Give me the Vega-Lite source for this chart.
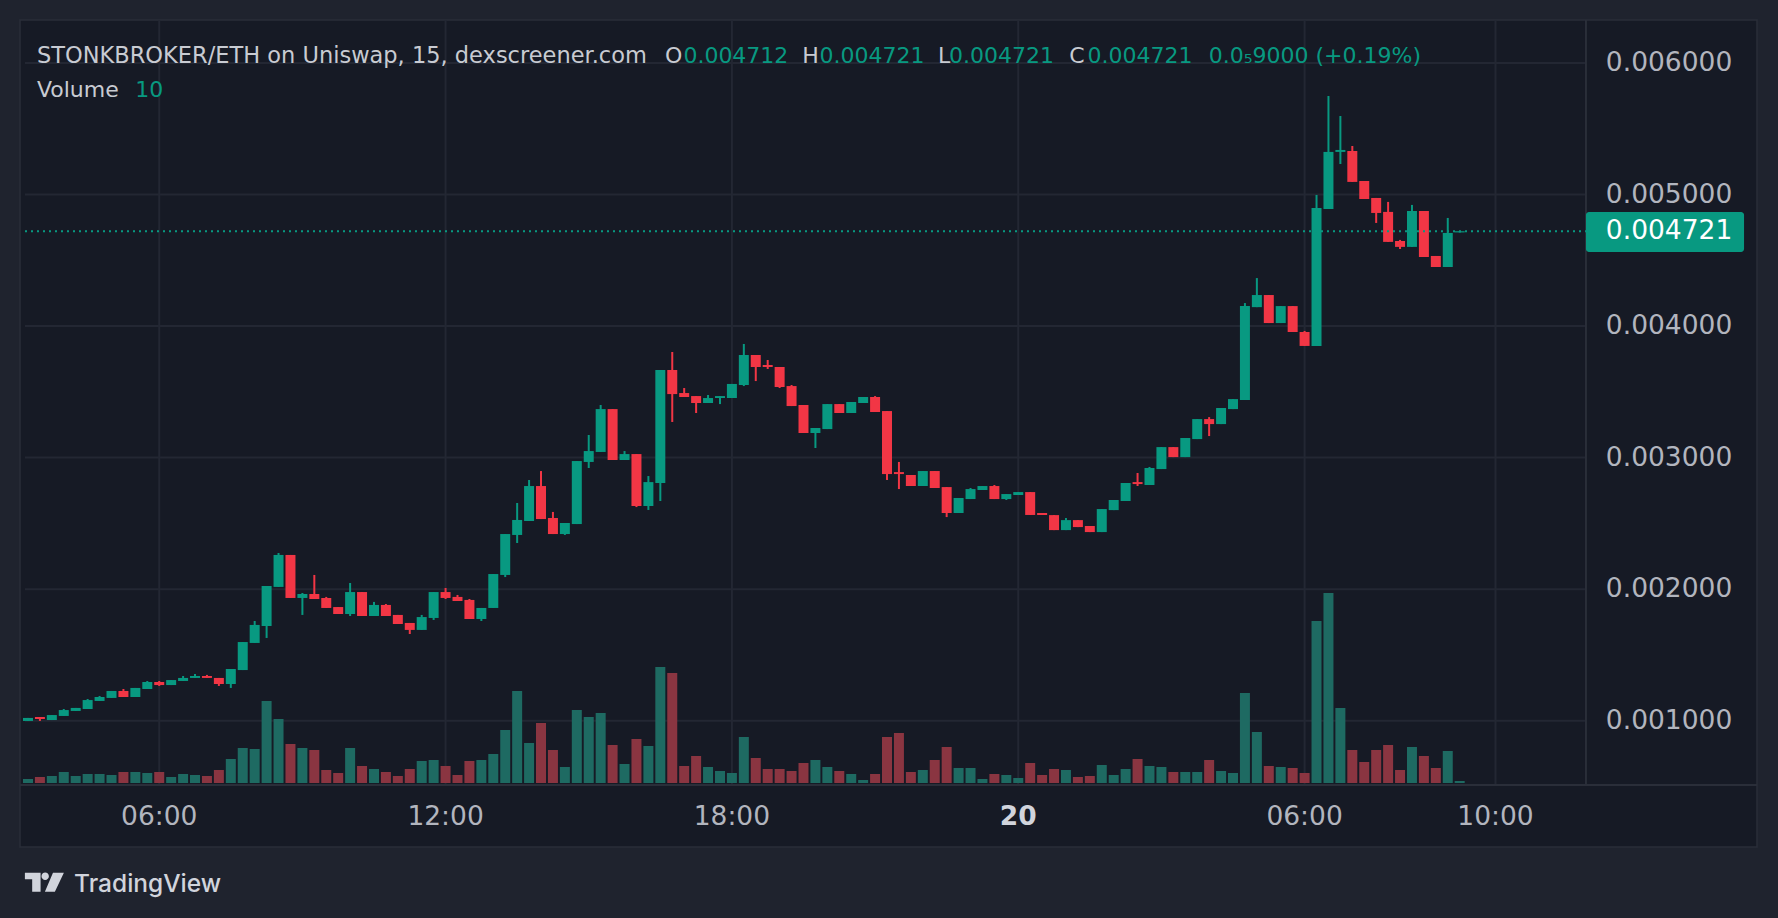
{
  "$schema": "https://vega.github.io/schema/vega-lite/v6.json",
  "autosize": "none",
  "width": 1737,
  "height": 827,
  "padding": {"left": 20, "top": 20, "right": 21, "bottom": 71},
  "background": "#1f232e",
  "view": {"fill": "#161a25", "stroke": "#2a2e39", "strokeWidth": 1.5},
  "datasets": {
    "candles": [
      {"t":"2024-05-19T03:15","o":0.000998,"h":0.001021,"l":0.000998,"c":0.001021,"v":20},
      {"t":"2024-05-19T03:30","o":0.001028,"h":0.001028,"l":0.000998,"c":0.001013,"v":30},
      {"t":"2024-05-19T03:45","o":0.001005,"h":0.001043,"l":0.001005,"c":0.001043,"v":35},
      {"t":"2024-05-19T04:00","o":0.001036,"h":0.001089,"l":0.001036,"c":0.001081,"v":55},
      {"t":"2024-05-19T04:15","o":0.001074,"h":0.001097,"l":0.001074,"c":0.001097,"v":35},
      {"t":"2024-05-19T04:30","o":0.001089,"h":0.001165,"l":0.001089,"c":0.001157,"v":45},
      {"t":"2024-05-19T04:45","o":0.001150,"h":0.001188,"l":0.001150,"c":0.001180,"v":45},
      {"t":"2024-05-19T05:00","o":0.001173,"h":0.001226,"l":0.001173,"c":0.001226,"v":40},
      {"t":"2024-05-19T05:15","o":0.001226,"h":0.001241,"l":0.001180,"c":0.001180,"v":55},
      {"t":"2024-05-19T05:30","o":0.001180,"h":0.001249,"l":0.001180,"c":0.001249,"v":55},
      {"t":"2024-05-19T05:45","o":0.001241,"h":0.001302,"l":0.001241,"c":0.001294,"v":50},
      {"t":"2024-05-19T06:00","o":0.001294,"h":0.001302,"l":0.001264,"c":0.001271,"v":55},
      {"t":"2024-05-19T06:15","o":0.001271,"h":0.001309,"l":0.001271,"c":0.001309,"v":30},
      {"t":"2024-05-19T06:30","o":0.001302,"h":0.001340,"l":0.001302,"c":0.001325,"v":45},
      {"t":"2024-05-19T06:45","o":0.001325,"h":0.001355,"l":0.001325,"c":0.001340,"v":40},
      {"t":"2024-05-19T07:00","o":0.001340,"h":0.001348,"l":0.001325,"c":0.001325,"v":35},
      {"t":"2024-05-19T07:15","o":0.001325,"h":0.001325,"l":0.001264,"c":0.001279,"v":65},
      {"t":"2024-05-19T07:30","o":0.001279,"h":0.001393,"l":0.001249,"c":0.001393,"v":120},
      {"t":"2024-05-19T07:45","o":0.001385,"h":0.001598,"l":0.001385,"c":0.001598,"v":175},
      {"t":"2024-05-19T08:00","o":0.001591,"h":0.001758,"l":0.001591,"c":0.001728,"v":170},
      {"t":"2024-05-19T08:15","o":0.001720,"h":0.002024,"l":0.001629,"c":0.002024,"v":410},
      {"t":"2024-05-19T08:30","o":0.002017,"h":0.002275,"l":0.002017,"c":0.002260,"v":320},
      {"t":"2024-05-19T08:45","o":0.002260,"h":0.002260,"l":0.001933,"c":0.001933,"v":195},
      {"t":"2024-05-19T09:00","o":0.001933,"h":0.001971,"l":0.001804,"c":0.001963,"v":175},
      {"t":"2024-05-19T09:15","o":0.001963,"h":0.002108,"l":0.001925,"c":0.001925,"v":165},
      {"t":"2024-05-19T09:30","o":0.001933,"h":0.001941,"l":0.001857,"c":0.001857,"v":65},
      {"t":"2024-05-19T09:45","o":0.001864,"h":0.001864,"l":0.001811,"c":0.001811,"v":50},
      {"t":"2024-05-19T10:00","o":0.001811,"h":0.002047,"l":0.001796,"c":0.001978,"v":175},
      {"t":"2024-05-19T10:15","o":0.001978,"h":0.001978,"l":0.001796,"c":0.001796,"v":85},
      {"t":"2024-05-19T10:30","o":0.001796,"h":0.001903,"l":0.001796,"c":0.001880,"v":70},
      {"t":"2024-05-19T10:45","o":0.001880,"h":0.001887,"l":0.001796,"c":0.001796,"v":55},
      {"t":"2024-05-19T11:00","o":0.001804,"h":0.001804,"l":0.001735,"c":0.001735,"v":35},
      {"t":"2024-05-19T11:15","o":0.001743,"h":0.001743,"l":0.001659,"c":0.001690,"v":70},
      {"t":"2024-05-19T11:30","o":0.001690,"h":0.001804,"l":0.001690,"c":0.001788,"v":110},
      {"t":"2024-05-19T11:45","o":0.001781,"h":0.001978,"l":0.001766,"c":0.001978,"v":115},
      {"t":"2024-05-19T12:00","o":0.001978,"h":0.002009,"l":0.001925,"c":0.001933,"v":85},
      {"t":"2024-05-19T12:15","o":0.001941,"h":0.001956,"l":0.001910,"c":0.001910,"v":40},
      {"t":"2024-05-19T12:30","o":0.001918,"h":0.001925,"l":0.001773,"c":0.001773,"v":110},
      {"t":"2024-05-19T12:45","o":0.001773,"h":0.001857,"l":0.001758,"c":0.001857,"v":115},
      {"t":"2024-05-19T13:00","o":0.001857,"h":0.002115,"l":0.001857,"c":0.002115,"v":145},
      {"t":"2024-05-19T13:15","o":0.002108,"h":0.002419,"l":0.002092,"c":0.002419,"v":265},
      {"t":"2024-05-19T13:30","o":0.002412,"h":0.002655,"l":0.002351,"c":0.002526,"v":460},
      {"t":"2024-05-19T13:45","o":0.002518,"h":0.002830,"l":0.002518,"c":0.002784,"v":200},
      {"t":"2024-05-19T14:00","o":0.002784,"h":0.002898,"l":0.002533,"c":0.002533,"v":300},
      {"t":"2024-05-19T14:15","o":0.002541,"h":0.002587,"l":0.002419,"c":0.002419,"v":165},
      {"t":"2024-05-19T14:30","o":0.002419,"h":0.002503,"l":0.002412,"c":0.002503,"v":80},
      {"t":"2024-05-19T14:45","o":0.002495,"h":0.002974,"l":0.002495,"c":0.002974,"v":365},
      {"t":"2024-05-19T15:00","o":0.002967,"h":0.003172,"l":0.002921,"c":0.003050,"v":330},
      {"t":"2024-05-19T15:15","o":0.003043,"h":0.003400,"l":0.003043,"c":0.003369,"v":350},
      {"t":"2024-05-19T15:30","o":0.003369,"h":0.003369,"l":0.002982,"c":0.002982,"v":190},
      {"t":"2024-05-19T15:45","o":0.002982,"h":0.003050,"l":0.002982,"c":0.003027,"v":95},
      {"t":"2024-05-19T16:00","o":0.003027,"h":0.003027,"l":0.002624,"c":0.002632,"v":220},
      {"t":"2024-05-19T16:15","o":0.002632,"h":0.002860,"l":0.002602,"c":0.002814,"v":185},
      {"t":"2024-05-19T16:30","o":0.002807,"h":0.003666,"l":0.002670,"c":0.003666,"v":580},
      {"t":"2024-05-19T16:45","o":0.003666,"h":0.003803,"l":0.003271,"c":0.003483,"v":550},
      {"t":"2024-05-19T17:00","o":0.003491,"h":0.003529,"l":0.003461,"c":0.003461,"v":85},
      {"t":"2024-05-19T17:15","o":0.003468,"h":0.003468,"l":0.003339,"c":0.003415,"v":135},
      {"t":"2024-05-19T17:30","o":0.003415,"h":0.003476,"l":0.003415,"c":0.003453,"v":80},
      {"t":"2024-05-19T17:45","o":0.003453,"h":0.003468,"l":0.003407,"c":0.003468,"v":60},
      {"t":"2024-05-19T18:00","o":0.003453,"h":0.003560,"l":0.003453,"c":0.003560,"v":50},
      {"t":"2024-05-19T18:15","o":0.003552,"h":0.003864,"l":0.003544,"c":0.003780,"v":230},
      {"t":"2024-05-19T18:30","o":0.003780,"h":0.003780,"l":0.003582,"c":0.003689,"v":125},
      {"t":"2024-05-19T18:45","o":0.003704,"h":0.003742,"l":0.003674,"c":0.003689,"v":70},
      {"t":"2024-05-19T19:00","o":0.003689,"h":0.003689,"l":0.003529,"c":0.003537,"v":70},
      {"t":"2024-05-19T19:15","o":0.003544,"h":0.003552,"l":0.003392,"c":0.003392,"v":60},
      {"t":"2024-05-19T19:30","o":0.003400,"h":0.003400,"l":0.003187,"c":0.003187,"v":100},
      {"t":"2024-05-19T19:45","o":0.003187,"h":0.003225,"l":0.003073,"c":0.003225,"v":115},
      {"t":"2024-05-19T20:00","o":0.003217,"h":0.003407,"l":0.003217,"c":0.003407,"v":80},
      {"t":"2024-05-19T20:15","o":0.003407,"h":0.003407,"l":0.003339,"c":0.003339,"v":60},
      {"t":"2024-05-19T20:30","o":0.003339,"h":0.003423,"l":0.003339,"c":0.003423,"v":45},
      {"t":"2024-05-19T20:45","o":0.003415,"h":0.003461,"l":0.003415,"c":0.003461,"v":15},
      {"t":"2024-05-19T21:00","o":0.003461,"h":0.003468,"l":0.003347,"c":0.003347,"v":45},
      {"t":"2024-05-19T21:15","o":0.003354,"h":0.003354,"l":0.002830,"c":0.002875,"v":230},
      {"t":"2024-05-19T21:30","o":0.002890,"h":0.002967,"l":0.002761,"c":0.002875,"v":250},
      {"t":"2024-05-19T21:45","o":0.002868,"h":0.002868,"l":0.002784,"c":0.002784,"v":55},
      {"t":"2024-05-19T22:00","o":0.002784,"h":0.002898,"l":0.002784,"c":0.002898,"v":65},
      {"t":"2024-05-19T22:15","o":0.002898,"h":0.002898,"l":0.002769,"c":0.002769,"v":115},
      {"t":"2024-05-19T22:30","o":0.002776,"h":0.002776,"l":0.002548,"c":0.002579,"v":180},
      {"t":"2024-05-19T22:45","o":0.002579,"h":0.002693,"l":0.002579,"c":0.002693,"v":75},
      {"t":"2024-05-19T23:00","o":0.002685,"h":0.002769,"l":0.002685,"c":0.002761,"v":75},
      {"t":"2024-05-19T23:15","o":0.002754,"h":0.002784,"l":0.002754,"c":0.002784,"v":20},
      {"t":"2024-05-19T23:30","o":0.002784,"h":0.002792,"l":0.002685,"c":0.002685,"v":45},
      {"t":"2024-05-19T23:45","o":0.002685,"h":0.002723,"l":0.002678,"c":0.002723,"v":40},
      {"t":"2024-05-20T00:00","o":0.002716,"h":0.002738,"l":0.002716,"c":0.002738,"v":25},
      {"t":"2024-05-20T00:15","o":0.002738,"h":0.002738,"l":0.002564,"c":0.002564,"v":100},
      {"t":"2024-05-20T00:30","o":0.002579,"h":0.002579,"l":0.002564,"c":0.002564,"v":40},
      {"t":"2024-05-20T00:45","o":0.002563,"h":0.002563,"l":0.002449,"c":0.002449,"v":70},
      {"t":"2024-05-20T01:00","o":0.002449,"h":0.002541,"l":0.002449,"c":0.002525,"v":65},
      {"t":"2024-05-20T01:15","o":0.002525,"h":0.002525,"l":0.002472,"c":0.002472,"v":30},
      {"t":"2024-05-20T01:30","o":0.002480,"h":0.002480,"l":0.002434,"c":0.002434,"v":35},
      {"t":"2024-05-20T01:45","o":0.002434,"h":0.002609,"l":0.002434,"c":0.002609,"v":90},
      {"t":"2024-05-20T02:00","o":0.002601,"h":0.002678,"l":0.002601,"c":0.002678,"v":40},
      {"t":"2024-05-20T02:15","o":0.002670,"h":0.002807,"l":0.002670,"c":0.002807,"v":70},
      {"t":"2024-05-20T02:30","o":0.002814,"h":0.002883,"l":0.002784,"c":0.002799,"v":120},
      {"t":"2024-05-20T02:45","o":0.002792,"h":0.002929,"l":0.002792,"c":0.002921,"v":85},
      {"t":"2024-05-20T03:00","o":0.002913,"h":0.003080,"l":0.002913,"c":0.003080,"v":80},
      {"t":"2024-05-20T03:15","o":0.003080,"h":0.003080,"l":0.003004,"c":0.003004,"v":55},
      {"t":"2024-05-20T03:30","o":0.003004,"h":0.003149,"l":0.003004,"c":0.003149,"v":55},
      {"t":"2024-05-20T03:45","o":0.003141,"h":0.003293,"l":0.003141,"c":0.003293,"v":55},
      {"t":"2024-05-20T04:00","o":0.003293,"h":0.003308,"l":0.003164,"c":0.003255,"v":115},
      {"t":"2024-05-20T04:15","o":0.003255,"h":0.003377,"l":0.003255,"c":0.003377,"v":60},
      {"t":"2024-05-20T04:30","o":0.003369,"h":0.003445,"l":0.003369,"c":0.003445,"v":50},
      {"t":"2024-05-20T04:45","o":0.003438,"h":0.004175,"l":0.003438,"c":0.004152,"v":450},
      {"t":"2024-05-20T05:00","o":0.004144,"h":0.004365,"l":0.004144,"c":0.004236,"v":255},
      {"t":"2024-05-20T05:15","o":0.004236,"h":0.004236,"l":0.004023,"c":0.004023,"v":85},
      {"t":"2024-05-20T05:30","o":0.004023,"h":0.004152,"l":0.004023,"c":0.004152,"v":80},
      {"t":"2024-05-20T05:45","o":0.004152,"h":0.004152,"l":0.003955,"c":0.003955,"v":75},
      {"t":"2024-05-20T06:00","o":0.003955,"h":0.003963,"l":0.003849,"c":0.003849,"v":50},
      {"t":"2024-05-20T06:15","o":0.003849,"h":0.004997,"l":0.003849,"c":0.004898,"v":810},
      {"t":"2024-05-20T06:30","o":0.004890,"h":0.005749,"l":0.004890,"c":0.005324,"v":950},
      {"t":"2024-05-20T06:45","o":0.005324,"h":0.005597,"l":0.005232,"c":0.005339,"v":375},
      {"t":"2024-05-20T07:00","o":0.005331,"h":0.005369,"l":0.005096,"c":0.005096,"v":165},
      {"t":"2024-05-20T07:15","o":0.005103,"h":0.005103,"l":0.004966,"c":0.004966,"v":105},
      {"t":"2024-05-20T07:30","o":0.004974,"h":0.004974,"l":0.004784,"c":0.004860,"v":165},
      {"t":"2024-05-20T07:45","o":0.004868,"h":0.004944,"l":0.004640,"c":0.004640,"v":190},
      {"t":"2024-05-20T08:00","o":0.004647,"h":0.004655,"l":0.004586,"c":0.004602,"v":65},
      {"t":"2024-05-20T08:15","o":0.004602,"h":0.004921,"l":0.004602,"c":0.004875,"v":180},
      {"t":"2024-05-20T08:30","o":0.004875,"h":0.004875,"l":0.004525,"c":0.004525,"v":135},
      {"t":"2024-05-20T08:45","o":0.004533,"h":0.004533,"l":0.004449,"c":0.004449,"v":75},
      {"t":"2024-05-20T09:00","o":0.004449,"h":0.004822,"l":0.004449,"c":0.004708,"v":160},
      {"t":"2024-05-20T09:15","o":0.004712,"h":0.004721,"l":0.004712,"c":0.004721,"v":10}
    ],
    "priceGrid": [{"p":0.001},{"p":0.002},{"p":0.003},{"p":0.004},{"p":0.005},{"p":0.006}],
    "timeGrid": [{"t":"2024-05-19T06:00"},{"t":"2024-05-19T12:00"},{"t":"2024-05-19T18:00"},{"t":"2024-05-20T00:00"},{"t":"2024-05-20T06:00"},{"t":"2024-05-20T10:00"}],
    "last": [{"price":0.004721,"label":"0.004721"}]
  },
  "layer": [
    {
      "layer": [
        {
          "data": {"name": "priceGrid"},
          "mark": {"type": "rule", "color": "#232733", "strokeWidth": 2},
          "encoding": {
            "y": {"field": "p", "type": "quantitative", "axis": null, "scale": {"domain": [0.0000398, 0.0063269], "zero": false, "nice": false}},
            "x": {"datum": {"year":2024,"month":5,"date":19,"hours":3,"minutes":11,"seconds":15}, "type": "temporal", "axis": null, "scale": {"domain": [{"year":2024,"month":5,"date":19,"hours":3,"minutes":11,"seconds":15},{"year":2024,"month":5,"date":20,"hours":15,"minutes":22,"seconds":30}], "nice": false}},
            "x2": {"datum": {"year":2024,"month":5,"date":20,"hours":11,"minutes":53,"seconds":45}}
          }
        },
        {
          "data": {"name": "timeGrid"},
          "mark": {"type": "rule", "color": "#232733", "strokeWidth": 2},
          "encoding": {
            "x": {"field": "t", "type": "temporal", "axis": null},
            "y": {"datum": 0.0063269, "type": "quantitative", "axis": null},
            "y2": {"datum": 0.0005111}
          }
        },
        {
          "data": {"values": [{}]},
          "mark": {"type": "rule", "color": "#2a2e39", "strokeWidth": 2},
          "encoding": {
            "x": {"datum": {"year":2024,"month":5,"date":20,"hours":11,"minutes":53,"seconds":45}, "type": "temporal", "axis": null},
            "y": {"datum": 0.0063269, "type": "quantitative", "axis": null},
            "y2": {"datum": 0.0005111}
          }
        },
        {
          "data": {"values": [{}]},
          "mark": {"type": "rule", "color": "#2a2e39", "strokeWidth": 2},
          "encoding": {
            "y": {"datum": 0.0005111, "type": "quantitative", "axis": null}
          }
        },
        {
          "data": {"name": "priceGrid"},
          "mark": {"type": "text", "font": "DejaVu Sans", "fontSize": 26.5, "color": "#b2b5be", "align": "left", "baseline": "middle"},
          "encoding": {
            "x": {"datum": {"year":2024,"month":5,"date":20,"hours":12,"minutes":18,"seconds":45}, "type": "temporal", "axis": null},
            "y": {"field": "p", "type": "quantitative", "axis": null},
            "text": {"field": "p", "type": "quantitative", "format": ".6f"}
          }
        },
        {
          "data": {"name": "timeGrid"},
          "transform": [{"filter": "hours(toDate(datum.t)) != 0"}],
          "mark": {"type": "text", "font": "DejaVu Sans", "fontSize": 26.5, "color": "#b2b5be", "align": "center", "baseline": "middle"},
          "encoding": {
            "x": {"field": "t", "type": "temporal", "axis": null},
            "y": {"datum": 0.000268, "type": "quantitative", "axis": null},
            "text": {"field": "t", "type": "temporal", "format": "%H:%M"}
          }
        },
        {
          "data": {"name": "timeGrid"},
          "transform": [{"filter": "hours(toDate(datum.t)) == 0"}],
          "mark": {"type": "text", "font": "DejaVu Sans", "fontSize": 26.5, "fontWeight": "bold", "color": "#d1d4dc", "align": "center", "baseline": "middle"},
          "encoding": {
            "x": {"field": "t", "type": "temporal", "axis": null},
            "y": {"datum": 0.000268, "type": "quantitative", "axis": null},
            "text": {"field": "t", "type": "temporal", "format": "%-d"}
          }
        },
        {
          "data": {"name": "candles"},
          "mark": {"type": "rule", "strokeWidth": 2},
          "encoding": {
            "x": {"field": "t", "type": "temporal", "axis": null},
            "y": {"field": "l", "type": "quantitative", "axis": null},
            "y2": {"field": "h"},
            "color": {"condition": {"test": "datum.c >= datum.o", "value": "#089981"}, "value": "#f23645"}
          }
        },
        {
          "data": {"name": "candles"},
          "mark": {"type": "bar", "width": 10},
          "encoding": {
            "x": {"field": "t", "type": "temporal", "axis": null},
            "y": {"field": "o", "type": "quantitative", "axis": null},
            "y2": {"field": "c"},
            "color": {"condition": {"test": "datum.c >= datum.o", "value": "#089981"}, "value": "#f23645"}
          }
        },
        {
          "data": {"name": "last"},
          "mark": {"type": "rule", "color": "#089981", "strokeWidth": 2, "strokeDash": [2, 4]},
          "encoding": {
            "y": {"field": "price", "type": "quantitative", "axis": null},
            "x": {"datum": {"year":2024,"month":5,"date":19,"hours":3,"minutes":11,"seconds":15}, "type": "temporal", "axis": null},
            "x2": {"datum": {"year":2024,"month":5,"date":20,"hours":11,"minutes":53,"seconds":45}}
          }
        },
        {
          "data": {"name": "last"},
          "mark": {"type": "rect", "color": "#089981", "cornerRadius": 3},
          "encoding": {
            "x": {"datum": {"year":2024,"month":5,"date":20,"hours":11,"minutes":53,"seconds":45}, "type": "temporal", "axis": null},
            "x2": {"datum": {"year":2024,"month":5,"date":20,"hours":15,"minutes":12,"seconds":30}},
            "y": {"datum": 0.0048672, "type": "quantitative", "axis": null},
            "y2": {"datum": 0.0045631}
          }
        },
        {
          "data": {"name": "last"},
          "mark": {"type": "text", "font": "DejaVu Sans", "fontSize": 26.5, "color": "#ffffff", "align": "left", "baseline": "middle"},
          "encoding": {
            "x": {"datum": {"year":2024,"month":5,"date":20,"hours":12,"minutes":18,"seconds":45}, "type": "temporal", "axis": null},
            "y": {"field": "price", "type": "quantitative", "axis": null},
            "text": {"field": "label"}
          }
        },
        {
          "data": {"values": [{"s": "STONKBROKER/ETH on Uniswap, 15, dexscreener.com"}]},
          "mark": {"type": "text", "font": "DejaVu Sans", "fontSize": 22.5, "color": "#c8cbd2", "align": "left", "baseline": "alphabetic"},
          "encoding": {"x": {"datum": {"year":2024,"month":5,"date":19,"hours":3,"minutes":26,"seconds":15}, "type": "temporal", "axis": null}, "y": {"datum": 0.006, "type": "quantitative", "axis": null}, "text": {"field": "s"}}
        },
        {
          "data": {"values": [{"s": "O"}]},
          "mark": {"type": "text", "font": "DejaVu Sans", "fontSize": 22, "color": "#c8cbd2", "align": "left", "baseline": "alphabetic"},
          "encoding": {"x": {"datum": {"year":2024,"month":5,"date":19,"hours":16,"minutes":36,"seconds":0}, "type": "temporal", "axis": null}, "y": {"datum": 0.006, "type": "quantitative", "axis": null}, "text": {"field": "s"}}
        },
        {
          "data": {"values": [{"s": "0.004712"}]},
          "mark": {"type": "text", "font": "DejaVu Sans", "fontSize": 22, "color": "#089981", "align": "left", "baseline": "alphabetic"},
          "encoding": {"x": {"datum": {"year":2024,"month":5,"date":19,"hours":16,"minutes":59,"seconds":0}, "type": "temporal", "axis": null}, "y": {"datum": 0.006, "type": "quantitative", "axis": null}, "text": {"field": "s"}}
        },
        {
          "data": {"values": [{"s": "H"}]},
          "mark": {"type": "text", "font": "DejaVu Sans", "fontSize": 22, "color": "#c8cbd2", "align": "left", "baseline": "alphabetic"},
          "encoding": {"x": {"datum": {"year":2024,"month":5,"date":19,"hours":19,"minutes":28,"seconds":30}, "type": "temporal", "axis": null}, "y": {"datum": 0.006, "type": "quantitative", "axis": null}, "text": {"field": "s"}}
        },
        {
          "data": {"values": [{"s": "0.004721"}]},
          "mark": {"type": "text", "font": "DejaVu Sans", "fontSize": 22, "color": "#089981", "align": "left", "baseline": "alphabetic"},
          "encoding": {"x": {"datum": {"year":2024,"month":5,"date":19,"hours":19,"minutes":50,"seconds":0}, "type": "temporal", "axis": null}, "y": {"datum": 0.006, "type": "quantitative", "axis": null}, "text": {"field": "s"}}
        },
        {
          "data": {"values": [{"s": "L"}]},
          "mark": {"type": "text", "font": "DejaVu Sans", "fontSize": 22, "color": "#c8cbd2", "align": "left", "baseline": "alphabetic"},
          "encoding": {"x": {"datum": {"year":2024,"month":5,"date":19,"hours":22,"minutes":19,"seconds":0}, "type": "temporal", "axis": null}, "y": {"datum": 0.006, "type": "quantitative", "axis": null}, "text": {"field": "s"}}
        },
        {
          "data": {"values": [{"s": "0.004721"}]},
          "mark": {"type": "text", "font": "DejaVu Sans", "fontSize": 22, "color": "#089981", "align": "left", "baseline": "alphabetic"},
          "encoding": {"x": {"datum": {"year":2024,"month":5,"date":19,"hours":22,"minutes":33,"seconds":0}, "type": "temporal", "axis": null}, "y": {"datum": 0.006, "type": "quantitative", "axis": null}, "text": {"field": "s"}}
        },
        {
          "data": {"values": [{"s": "C"}]},
          "mark": {"type": "text", "font": "DejaVu Sans", "fontSize": 22, "color": "#c8cbd2", "align": "left", "baseline": "alphabetic"},
          "encoding": {"x": {"datum": {"year":2024,"month":5,"date":20,"hours":1,"minutes":4,"seconds":0}, "type": "temporal", "axis": null}, "y": {"datum": 0.006, "type": "quantitative", "axis": null}, "text": {"field": "s"}}
        },
        {
          "data": {"values": [{"s": "0.004721"}]},
          "mark": {"type": "text", "font": "DejaVu Sans", "fontSize": 22, "color": "#089981", "align": "left", "baseline": "alphabetic"},
          "encoding": {"x": {"datum": {"year":2024,"month":5,"date":20,"hours":1,"minutes":27,"seconds":0}, "type": "temporal", "axis": null}, "y": {"datum": 0.006, "type": "quantitative", "axis": null}, "text": {"field": "s"}}
        },
        {
          "data": {"values": [{"s": "0.0₅9000 (+0.19%)"}]},
          "mark": {"type": "text", "font": "DejaVu Sans", "fontSize": 22, "color": "#089981", "align": "left", "baseline": "alphabetic"},
          "encoding": {"x": {"datum": {"year":2024,"month":5,"date":20,"hours":3,"minutes":59,"seconds":30}, "type": "temporal", "axis": null}, "y": {"datum": 0.006, "type": "quantitative", "axis": null}, "text": {"field": "s"}}
        },
        {
          "data": {"values": [{"s": "Volume"}]},
          "mark": {"type": "text", "font": "DejaVu Sans", "fontSize": 22, "color": "#c8cbd2", "align": "left", "baseline": "alphabetic"},
          "encoding": {"x": {"datum": {"year":2024,"month":5,"date":19,"hours":3,"minutes":26,"seconds":15}, "type": "temporal", "axis": null}, "y": {"datum": 0.0057415, "type": "quantitative", "axis": null}, "text": {"field": "s"}}
        },
        {
          "data": {"values": [{"s": "10"}]},
          "mark": {"type": "text", "font": "DejaVu Sans", "fontSize": 22, "color": "#089981", "align": "left", "baseline": "alphabetic"},
          "encoding": {"x": {"datum": {"year":2024,"month":5,"date":19,"hours":5,"minutes":30,"seconds":0}, "type": "temporal", "axis": null}, "y": {"datum": 0.0057415, "type": "quantitative", "axis": null}, "text": {"field": "s"}}
        },
        {
          "data": {"values": [{"s": "TradingView"}]},
          "mark": {"type": "text", "font": "Inter", "fontSize": 24.5, "fontWeight": 500, "color": "#d1d4dc", "align": "left", "baseline": "alphabetic"},
          "encoding": {"x": {"datum": {"year":2024,"month":5,"date":19,"hours":4,"minutes":13}, "type": "temporal", "axis": null}, "y": {"datum": -0.0003, "type": "quantitative", "axis": null}, "text": {"field": "s"}}
        },
        {
          "data": {"values": [{"s": "logo"}]},
          "mark": {"type": "point", "filled": true, "opacity": 1, "strokeWidth": 0, "color": "#d1d4dc", "size": 1521,
            "shape": "M-1,-0.487L-0.195,-0.487L-0.195,0.487L-0.626,0.487L-0.626,-0.149L-1,-0.149Z M-0.149,-0.303A0.19,0.19 0 1,0 0.231,-0.303A0.19,0.19 0 1,0 -0.149,-0.303Z M0.44,-0.487L1,-0.487L0.538,0.487L0.026,0.487Z"},
          "encoding": {"x": {"datum": {"year":2024,"month":5,"date":19,"hours":3,"minutes":35,"seconds":37,"milliseconds":500}, "type": "temporal", "axis": null}, "y": {"datum": -0.0002278, "type": "quantitative", "axis": null}}
        }
      ]
    },
    {
      "data": {"name": "candles"},
      "mark": {"type": "bar", "width": 10},
      "encoding": {
        "x": {"field": "t", "type": "temporal", "axis": null},
        "y": {"field": "v", "type": "quantitative", "axis": null, "scale": {"domain": [-320, 3815], "zero": false, "nice": false}},
        "y2": {"datum": 0},
        "color": {"condition": {"test": "datum.c >= datum.o", "value": "#1e6a62"}, "value": "#8a3541"}
      }
    }
  ],
  "resolve": {"scale": {"y": "independent"}}
}
